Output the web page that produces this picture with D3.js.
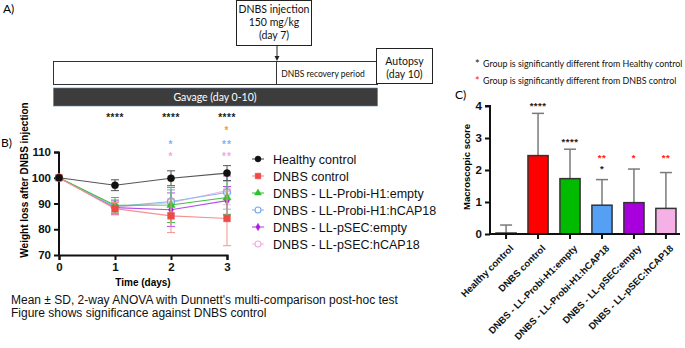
<!DOCTYPE html>
<html>
<head>
<meta charset="utf-8">
<script src="https://cdn.jsdelivr.net/npm/d3@7"></script>
<style>
  body { margin: 0; background: #fff; }
  svg { display: block; }
</style>
</head>
<body>
<svg id="fig" width="685" height="348"></svg>
<script>
// ─── Data: panel B (weight after DNBS injection) ───
const days = [0, 1, 2, 3];
const seriesNames = [
  "Healthy control",
  "DNBS control",
  "DNBS - LL-Probi-H1:empty",
  "DNBS - LL-Probi-H1:hCAP18",
  "DNBS - LL-pSEC:empty",
  "DNBS - LL-pSEC:hCAP18"
];
const healthyMean  = [100, 97.1, 99.8, 101.8];
const healthySD    = [0, 2.1, 2.9, 2.9];
const dnbsMean     = [100, 88.0, 85.2, 84.2];
const dnbsSD       = [0, 2.4, 6.5, 10.6];
const probiEmpty   = [100, 89.3, 89.4, 92.3];
const probiEmptySD = [0, 3.0, 6.8, 6.5];
const probiHcap    = [100, 88.8, 90.8, 94.3];
const probiHcapSD  = [0, 2.6, 4.5, 6.5];
const psecEmpty    = [100, 88.4, 87.6, 91.1];
const psecEmptySD  = [0, 2.6, 6.5, 5.5];
const psecHcap     = [100, 88.6, 90.3, 95.0];
const psecHcapSD   = [0, 2.7, 5.0, 5.5];
const yTicksB = [70, 80, 90, 100, 110];

// significance stars above days (panel B)
const starsB = [
  { day: 1, text: "****", color: "#222", row: 0 },
  { day: 2, text: "****", color: "#222", row: 0 },
  { day: 3, text: "****", color: "#222", row: 0 },
  { day: 3, text: "*",    color: "#f5a030", row: 1 },
  { day: 2, text: "*",    color: "#7fb2f0", row: 2 },
  { day: 3, text: "**",   color: "#7fb2f0", row: 2 },
  { day: 2, text: "*",    color: "#f0a8e0", row: 3 },
  { day: 3, text: "**",   color: "#f0a8e0", row: 3 }
];

// ─── Data: panel C (macroscopic score) ───
const groups     = seriesNames;
const scoreMean  = [0.03, 2.45, 1.73, 0.9, 0.98, 0.8];
const scoreUpper = [0.28, 3.77, 2.65, 1.7, 2.03, 1.92];
const yTicksC    = [0, 1, 2, 3, 4];
// each entry: star marks stacked above one bar (top first)
const starsC = [
  { group: 1, level: 3.77, marks: [["****", "#222"]] },
  { group: 2, level: 2.65, marks: [["****", "#222"]] },
  { group: 3, level: 2.16, marks: [["**", "#ff2020"], ["*", "#222"]] },
  { group: 4, level: 2.16, marks: [["*", "#ff2020"]] },
  { group: 5, level: 2.16, marks: [["**", "#ff2020"]] }
];

const svg = d3.select("#fig");
const ARIAL = "'Liberation Sans', Arial, sans-serif";
const CAL = "Lato, 'Open Sans', sans-serif";

// ─── Panel A: timeline ───
const A = svg.append("g");
A.append("text").attr("x", 3).attr("y", 13).attr("font-family", CAL)
  .attr("font-size", 12).text("A)");

// injection box
A.append("rect").attr("x", 236.5).attr("y", 0.5).attr("width", 75).attr("height", 45)
  .attr("fill", "#fff").attr("stroke", "#222");
["DNBS injection", "150 mg/kg", "(day 7)"].forEach((t, i) => {
  A.append("text").attr("x", 274).attr("y", 13 + i * 13).attr("text-anchor", "middle")
    .attr("font-family", CAL).attr("font-size", 10.5).attr("fill", "#111").text(t);
});
A.append("line").attr("x1", 277).attr("x2", 277).attr("y1", 45).attr("y2", 58)
  .attr("stroke", "#222");
A.append("path").attr("d", "M274.5,56 L279.5,56 L277,61 Z").attr("fill", "#222");

// white period bar
A.append("rect").attr("x", 53.5).attr("y", 61.5).attr("width", 324).attr("height", 23)
  .attr("fill", "#fff").attr("stroke", "#333");
A.append("line").attr("x1", 276.5).attr("x2", 276.5).attr("y1", 61.5).attr("y2", 84.5)
  .attr("stroke", "#333");
A.append("text").attr("x", 323).attr("y", 77).attr("text-anchor", "middle")
  .attr("font-family", CAL).attr("font-size", 8.5).attr("fill", "#111")
  .text("DNBS recovery period");

// gavage bar
A.append("rect").attr("x", 53.5).attr("y", 88).attr("width", 324).attr("height", 18)
  .attr("fill", "#3c3c3c").attr("stroke", "#5a7fa8").attr("stroke-width", 0.6);
A.append("text").attr("x", 215).attr("y", 101).attr("text-anchor", "middle")
  .attr("font-family", CAL).attr("font-size", 10.5).attr("fill", "#fff")
  .text("Gavage (day 0-10)");

// autopsy box
A.append("rect").attr("x", 376.5).attr("y", 48.5).attr("width", 56).attr("height", 35)
  .attr("fill", "#fff").attr("stroke", "#222");
["Autopsy", "(day 10)"].forEach((t, i) => {
  A.append("text").attr("x", 404.5).attr("y", 65 + i * 13).attr("text-anchor", "middle")
    .attr("font-family", CAL).attr("font-size", 10.5).attr("fill", "#111").text(t);
});

// star key
[["#111", "Group is significantly different from Healthy control"],
 ["#ff2020", "Group is significantly different from DNBS control"]].forEach((d, i) => {
  A.append("text").attr("x", 475).attr("y", 68 + i * 16.5).attr("font-family", CAL)
    .attr("font-size", 11).attr("fill", d[0]).text("*");
  A.append("text").attr("x", 483).attr("y", 67 + i * 16.5).attr("font-family", CAL)
    .attr("font-size", 8.9).attr("fill", "#111").text(d[1]);
});

// ─── Panel B: line chart ───
const B = svg.append("g");
B.append("text").attr("x", 1).attr("y", 147).attr("font-family", CAL)
  .attr("font-size", 12).text("B)");

const xB = d3.scaleLinear().domain([0, 3]).range([59, 227]);
const yB = d3.scaleLinear().domain([70, 110]).range([255, 152]);

const axB = B.append("g").attr("font-family", ARIAL);
const xAxisB = axB.append("g").attr("transform", "translate(0,255)")
  .call(d3.axisBottom(xB).tickValues(days).tickFormat(d3.format("d")).tickSize(5).tickPadding(3));
const yAxisB = axB.append("g").attr("transform", "translate(59,0)")
  .call(d3.axisLeft(yB).tickValues(yTicksB).tickSize(5).tickPadding(3));
[xAxisB, yAxisB].forEach(g => {
  g.select(".domain").attr("stroke", "#111").attr("stroke-width", 2);
  g.selectAll(".tick line").attr("stroke", "#111").attr("stroke-width", 2);
  g.selectAll(".tick text").attr("font-size", 11.5).attr("font-weight", "bold").attr("fill", "#111");
});
yAxisB.select(".domain").attr("d", "M-5,152.5H0V255");

B.append("text").attr("x", 143).attr("y", 286).attr("text-anchor", "middle")
  .attr("font-family", ARIAL).attr("font-size", 10).attr("font-weight", "bold")
  .text("Time (days)");
B.append("text").attr("transform", "translate(28,180) rotate(-90)")
  .attr("text-anchor", "middle").attr("font-family", ARIAL).attr("font-size", 10)
  .attr("font-weight", "bold").text("Weight loss after DNBS injection");

const series = [
  { mean: healthyMean, sd: healthySD,    color: "#111",    line: "#555",    shape: "circle",   fill: true  },
  { mean: dnbsMean,    sd: dnbsSD,       color: "#f04848", line: "#f79090", shape: "square",   fill: true  },
  { mean: probiEmpty,  sd: probiEmptySD, color: "#2fc02f", line: "#40c040", shape: "triangle", fill: true  },
  { mean: probiHcap,   sd: probiHcapSD,  color: "#72a6ee", line: "#8db8f0", shape: "circle",   fill: false },
  { mean: psecEmpty,   sd: psecEmptySD,  color: "#aa1ee0", line: "#b84ee8", shape: "diamond",  fill: true  },
  { mean: psecHcap,    sd: psecHcapSD,   color: "#f2a8e6", line: "#f4b8ea", shape: "circle",   fill: false }
];
const symbolOf = { circle: d3.symbolCircle, square: d3.symbolSquare, triangle: d3.symbolTriangle, diamond: d3.symbolDiamond };
const sizeOf = { circle: 40, square: 45, triangle: 30, diamond: 22 };

// draw from last to first so healthy / DNBS are on top
series.slice().reverse().forEach(s => {
  const pts = days.map((d, i) => ({ d, m: s.mean[i], sd: s.sd[i] }));
  const g = B.append("g");
  // error bars
  pts.filter(p => p.sd > 0).forEach(p => {
    const x = xB(p.d);
    g.append("line").attr("x1", x).attr("x2", x).attr("y1", yB(p.m - p.sd)).attr("y2", yB(p.m + p.sd))
      .attr("stroke", s.line).attr("stroke-width", 1);
    [p.m - p.sd, p.m + p.sd].forEach(v => {
      g.append("line").attr("x1", x - 4).attr("x2", x + 4).attr("y1", yB(v)).attr("y2", yB(v))
        .attr("stroke", s.line).attr("stroke-width", 1);
    });
  });
  g.append("path").datum(pts)
    .attr("d", d3.line().x(p => xB(p.d)).y(p => yB(p.m)))
    .attr("fill", "none").attr("stroke", s.line).attr("stroke-width", 1.1);
  g.selectAll(".pt").data(pts).enter().append("path")
    .attr("transform", p => `translate(${xB(p.d)},${yB(p.m)})`)
    .attr("d", d3.symbol().type(symbolOf[s.shape]).size(sizeOf[s.shape]))
    .attr("fill", s.fill ? s.color : "#fff")
    .attr("fill-opacity", s.fill ? 1 : 0.3)
    .attr("stroke", s.color).attr("stroke-width", s.fill ? 0.5 : 1.2);
});

// stars (panel B)
const starRowY = [121, 134, 148, 160];
starsB.forEach(s => {
  B.append("text").attr("x", xB(s.day)).attr("y", starRowY[s.row]).attr("text-anchor", "middle")
    .attr("font-family", ARIAL).attr("font-size", 10).attr("font-weight", "bold")
    .attr("fill", s.color).attr("letter-spacing", s.row === 0 ? 0.5 : 1).text(s.text);
});

// legend
series.forEach((s, i) => {
  const y = 159 + i * 17;
  const g = B.append("g");
  g.append("line").attr("x1", 252).attr("x2", 264).attr("y1", y).attr("y2", y)
    .attr("stroke", s.line).attr("stroke-width", 1.1);
  g.append("path").attr("transform", `translate(258,${y})`)
    .attr("d", d3.symbol().type(symbolOf[s.shape]).size(sizeOf[s.shape] * 0.7))
    .attr("fill", s.fill ? s.color : "#fff").attr("stroke", s.color)
    .attr("stroke-width", s.fill ? 0.5 : 1.1);
  g.append("text").attr("x", 273).attr("y", y + 4.5).attr("font-family", ARIAL)
    .attr("font-size", 12.5).attr("fill", "#111").text(seriesNames[i]);
});

// footnote
["Mean \u00b1 SD, 2-way ANOVA with Dunnett's multi-comparison post-hoc test",
 "Figure shows significance against DNBS control"].forEach((t, i) => {
  svg.append("text").attr("x", 11).attr("y", 304 + i * 13).attr("font-family", ARIAL)
    .attr("font-size", 12).attr("fill", "#111").text(t);
});

// ─── Panel C: bar chart ───
const C = svg.append("g");
C.append("text").attr("x", 455).attr("y", 99).attr("font-family", CAL)
  .attr("font-size", 12).text("C)");

const xC = d3.scaleBand().domain(groups).range([496, 676]).paddingInner(0.37).paddingOuter(0);
const yC = d3.scaleLinear().domain([0, 4]).range([234, 106]);
const barColors = ["#222", "#ff0000", "#00bb00", "#55a0f5", "#a800dc", "#f5b0e6"];

// error bars (upper only) behind bars
groups.forEach((g, i) => {
  const cx = xC(g) + xC.bandwidth() / 2;
  C.append("line").attr("x1", cx).attr("x2", cx).attr("y1", yC(scoreMean[i])).attr("y2", yC(scoreUpper[i]))
    .attr("stroke", "#7a7a7a").attr("stroke-width", 1.5);
  C.append("line").attr("x1", cx - 6).attr("x2", cx + 6).attr("y1", yC(scoreUpper[i])).attr("y2", yC(scoreUpper[i]))
    .attr("stroke", "#7a7a7a").attr("stroke-width", 1.5);
});
C.selectAll(".bar").data(groups).enter().append("rect")
  .attr("x", d => xC(d)).attr("width", xC.bandwidth())
  .attr("y", (d, i) => yC(scoreMean[i])).attr("height", (d, i) => yC(0) - yC(scoreMean[i]))
  .attr("fill", (d, i) => barColors[i]).attr("stroke", "#333").attr("stroke-width", 1.5);

const xAxisC = C.append("g").attr("transform", "translate(0,234)").attr("font-family", ARIAL)
  .call(d3.axisBottom(xC).tickSize(5).tickPadding(2));
const yAxisC = C.append("g").attr("transform", "translate(490,0)").attr("font-family", ARIAL)
  .call(d3.axisLeft(yC).tickValues(yTicksC).tickFormat(d3.format("d")).tickSize(5).tickPadding(3));
[xAxisC, yAxisC].forEach(g => {
  g.select(".domain").attr("stroke", "#111").attr("stroke-width", 2);
  g.selectAll(".tick line").attr("stroke", "#111").attr("stroke-width", 2);
});
xAxisC.select(".domain").attr("d", "M490,0H680");
yAxisC.select(".domain").attr("d", "M-5,106H0V234");
yAxisC.selectAll(".tick text").attr("font-size", 11.5).attr("font-weight", "bold").attr("fill", "#111");
xAxisC.selectAll(".tick text")
  .attr("font-size", 9.5).attr("font-weight", "bold").attr("fill", "#111")
  .attr("text-anchor", "end").attr("dy", 0)
  .attr("transform", "translate(3,10) rotate(-45)");

C.append("text").attr("transform", "translate(470,167) rotate(-90)")
  .attr("text-anchor", "middle").attr("font-family", ARIAL).attr("font-size", 9.5)
  .attr("font-weight", "bold").text("Macroscopic score");

// stacked stars above bars
starsC.forEach(s => {
  const cx = xC(groups[s.group]) + xC.bandwidth() / 2;
  s.marks.forEach((m, j) => {
    C.append("text").attr("x", cx).attr("y", yC(s.level) - 4 + j * 10.8)
      .attr("text-anchor", "middle").attr("font-family", ARIAL).attr("font-size", 9.5)
      .attr("font-weight", "bold").attr("letter-spacing", 0.5)
      .attr("fill", m[1]).text(m[0]);
  });
});
</script>
</body>
</html>
